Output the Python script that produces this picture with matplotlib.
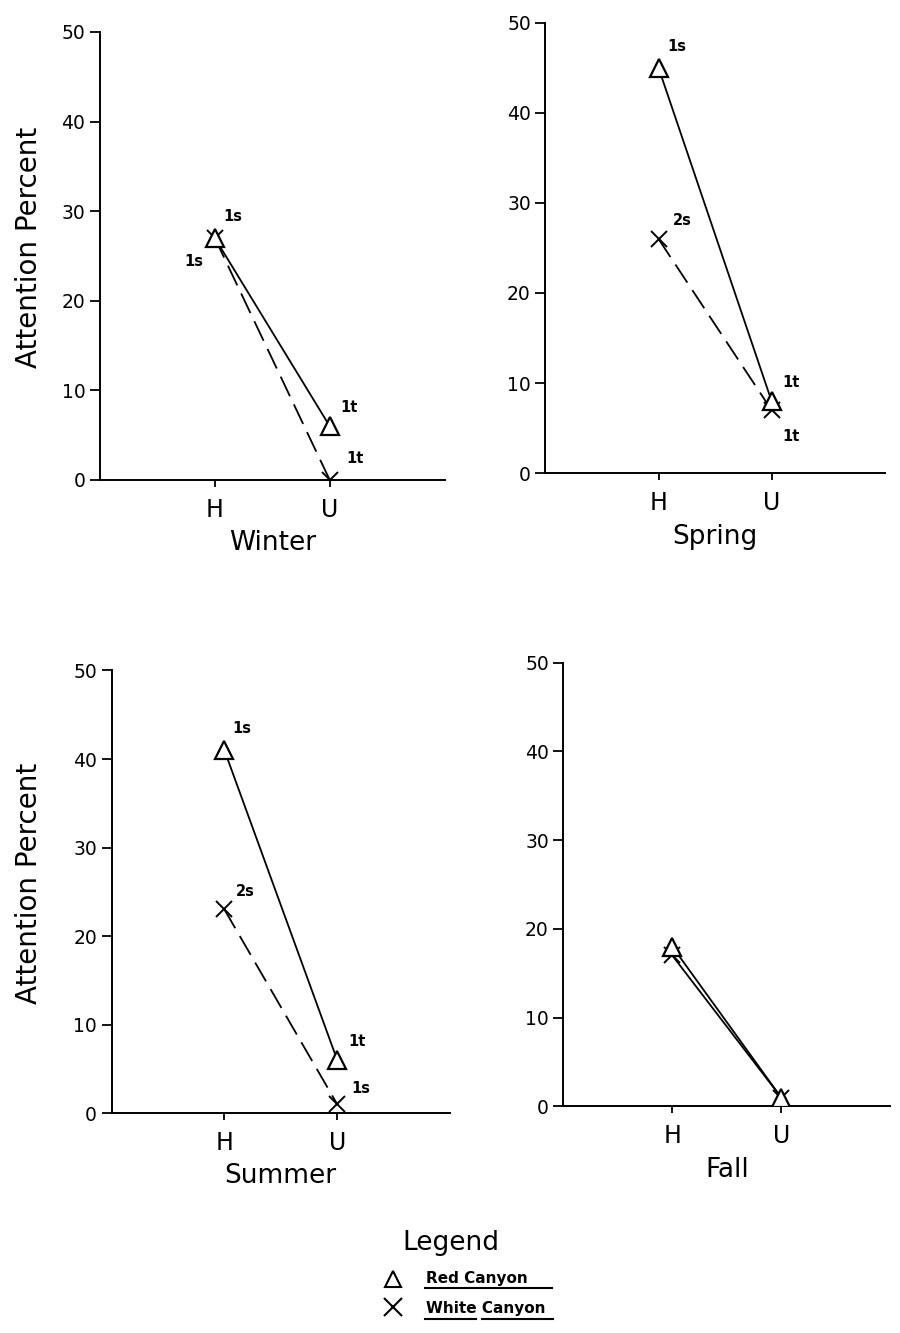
import matplotlib.pyplot as plt
from matplotlib.lines import Line2D

plt.rcParams['font.family'] = ['DejaVu Sans']

seasons = ['Winter', 'Spring', 'Summer', 'Fall']
sites = ['H', 'U']
red = [[27, 6], [45, 8], [41, 6], [18, 1]]
white = [[27, 0], [26, 7], [23, 1], [17, 1]]
red_lbl = [['1s', '1t'], ['1s', '1t'], ['1s', '1t'], ['', '']]
white_lbl = [['1s', '1t'], ['2s', '1t'], ['2s', '1s'], ['', '']]

# label offsets in points (x, y) for each point
red_off = [[(6, 12), (8, 10)], [(6, 12), (8, 10)], [(6, 12), (8, 10)], [(0, 0), (0, 0)]]
white_off = [[(-22, -20), (12, 12)], [(10, 10), (8, -22)], [(8, 10), (10, 8)], [(0, 0), (0, 0)]]

pos = [
    [0.111, 0.640, 0.383, 0.336],
    [0.606, 0.645, 0.377, 0.338],
    [0.124, 0.165, 0.376, 0.332],
    [0.626, 0.170, 0.363, 0.333],
]
ylab_x = [-0.165, None, -0.204, None]

fig = plt.figure(figsize=(9, 13.33), dpi=100)

for i, s in enumerate(seasons):
    ax = fig.add_axes(pos[i])
    x = [1, 2]
    if i < 3:
        ax.plot(x, white[i], color='black', lw=1.3, dashes=(12, 5), zorder=2)
    else:
        # fall: white line lies under the red one
        ax.plot(x, white[i], color='black', lw=1.3, zorder=2)
    ax.plot(x, red[i], color='black', lw=1.3, zorder=2)
    ax.plot(x, white[i], ls='none', marker='x', ms=12, mew=1.4, color='black', zorder=3)
    ax.plot(x, red[i], ls='none', marker='^', ms=13, mew=1.6, mfc='white', mec='black', zorder=4)
    for j in range(2):
        if red_lbl[i][j]:
            ax.annotate(red_lbl[i][j], (x[j], red[i][j]), xytext=red_off[i][j],
                        textcoords='offset points', fontsize=10.5, fontweight='bold')
        if white_lbl[i][j]:
            ax.annotate(white_lbl[i][j], (x[j], white[i][j]), xytext=white_off[i][j],
                        textcoords='offset points', fontsize=10.5, fontweight='bold')
    ax.set_xlim(0, 3)
    ax.set_ylim(0, 50)
    ax.set_xticks(x)
    ax.set_xticklabels(sites, fontsize=17)
    ax.set_yticks([0, 10, 20, 30, 40, 50])
    ax.tick_params(axis='y', labelsize=13.5, length=7, width=1.3)
    ax.tick_params(axis='x', length=5, width=1.3, pad=8)
    ax.spines['top'].set_visible(False)
    ax.spines['right'].set_visible(False)
    ax.spines['left'].set_linewidth(1.4)
    ax.spines['bottom'].set_linewidth(1.4)
    ax.set_xlabel(s, fontsize=19, labelpad=6)
    if ylab_x[i] is not None:
        ax.set_ylabel('Attention Percent', fontsize=20)
        ax.yaxis.set_label_coords(ylab_x[i], 0.52)

# legend block (figure pixel coordinates -> fraction)
W, H = 900, 1333
fx = lambda px: px / W
fy = lambda py: 1 - py / H
fig.text(fx(451), fy(1243), 'Legend', fontsize=19, ha='center', va='center')
fig.add_artist(Line2D([fx(393)], [fy(1279)], marker='^', ms=12, mew=1.5, mfc='white', mec='black'))
fig.add_artist(Line2D([fx(393)], [fy(1307)], marker='x', ms=13, mew=1.5, color='black'))
fig.text(fx(426), fy(1278), 'Red Canyon', fontsize=11, fontweight='bold', va='center')
fig.text(fx(426), fy(1309), 'White Canyon', fontsize=11, fontweight='bold', va='center')
fig.add_artist(Line2D([fx(425), fx(552)], [fy(1288), fy(1288)], color='black', lw=1.5))
fig.add_artist(Line2D([fx(425), fx(476)], [fy(1319), fy(1319)], color='black', lw=1.5))
fig.add_artist(Line2D([fx(482), fx(553)], [fy(1319), fy(1319)], color='black', lw=1.5))

fig.savefig('out.png', dpi=100)
